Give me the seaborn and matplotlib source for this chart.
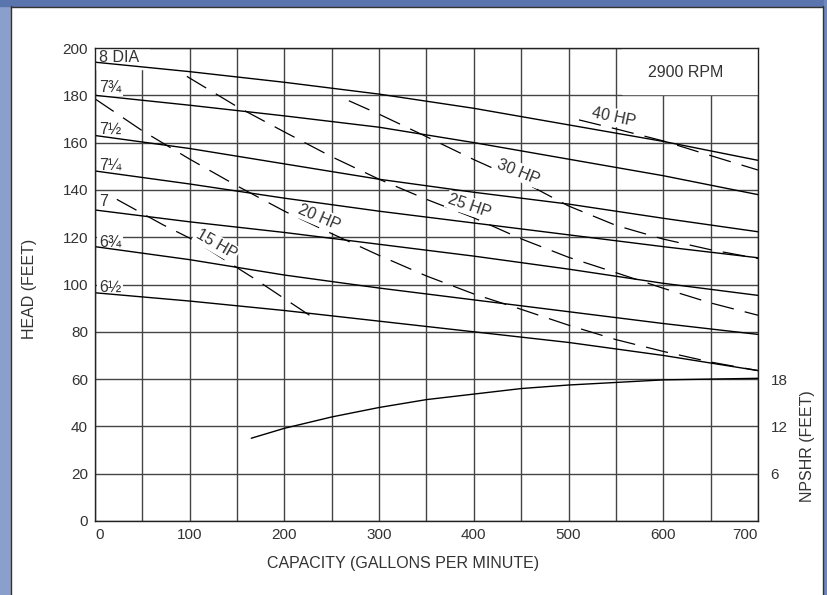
import numpy as np
import pandas as pd
import matplotlib
matplotlib.use("Agg")
import matplotlib.pyplot as plt
import seaborn as sns
from matplotlib.patches import Rectangle

# impeller diameter curves (head in feet vs capacity in gpm)
capacity = [0, 100, 200, 300, 400, 500, 600, 700]
head_8 = [194, 190, 185.5, 180.5, 174.5, 167.5, 160.5, 152.5]
head_7_75 = [180, 175.8, 171.3, 166.5, 160, 153, 146, 138]
head_7_5 = [163, 157.5, 151, 144.5, 139, 134, 128, 122.3]
head_7_25 = [148, 142.5, 136.5, 131, 126, 121, 116, 111.3]
head_7 = [131.5, 126.5, 122, 117, 112, 106.5, 100.5, 95.4]
head_6_75 = [116, 110.5, 104, 98.5, 93.5, 88.5, 83.5, 78.9]
head_6_5 = [96.5, 93, 89, 84.5, 80, 75.5, 70, 63.6]
dia_labels = ["8 DIA", "7\u00be", "7\u00bd", "7\u00bc", "7", "6\u00be", "6\u00bd"]
dia_label_head = [196, 183.6, 165.6, 150.5, 135, 118.1, 99]

# horsepower lines (dashed)
hp15_q = [23, 72, 104, 137, 169, 199, 231]
hp15_h = [136, 125.2, 118.8, 110.4, 102.3, 94.3, 85.8]
hp20_q = [0, 50, 100, 150, 200, 250, 300, 350, 400, 450, 500, 550, 600, 650, 700]
hp20_h = [178.5, 165, 153, 141.7, 131, 121.5, 112.3, 103.6, 96, 89.5, 82.8, 76.7, 71.7, 67.2, 63.6]
hp25_q = [97, 150, 200, 250, 300, 350, 400, 450, 500, 550, 600, 650, 700]
hp25_h = [188, 175.2, 164.5, 154, 144.5, 136, 128.2, 119.3, 111.5, 105, 98.4, 92.2, 87]
hp30_q = [268, 300, 350, 400, 450, 500, 550, 600, 650, 700]
hp30_h = [177.7, 172, 162.5, 152.8, 143.8, 133.2, 125, 119.2, 114.7, 111]
hp40_q = [511, 550, 600, 650, 700]
hp40_h = [169.6, 165.8, 160.7, 154.5, 148.4]
hp_labels = ["15 HP", "20 HP", "25 HP", "30 HP", "40 HP"]
hp_label_q = [128, 237, 395, 447, 548]
hp_label_h = [117, 128.4, 133.2, 147.7, 170.7]
hp_label_rot = [-30, -23, -19, -22, -12]

# NPSHR curve (feet, right axis)
npshr_q = [165, 200, 250, 300, 350, 400, 450, 500, 600, 700]
npshr_ft = [10.5, 11.76, 13.2, 14.4, 15.4, 16.1, 16.8, 17.25, 17.9, 18.1]

sns.set_theme(style="white")
plt.rcParams['font.family'] = ['Liberation Sans', 'DejaVu Sans']

FS = 11.5
TXT = '#333333'

fig = plt.figure(figsize=(8.28, 5.95), dpi=100)
W, H = 828, 595
# blue frame
fig.patches.append(Rectangle((0, 0), 10 / W, 1, transform=fig.transFigure, color='#8a9fcb', zorder=0))
fig.patches.append(Rectangle((0, 1 - 6 / H), 1, 6 / H, transform=fig.transFigure, color='#5a74ae', zorder=0))
fig.patches.append(Rectangle((824 / W, 0), 4 / W, 1, transform=fig.transFigure, color='#6f87bd', zorder=0))
fig.add_artist(plt.Line2D([10.5 / W, 10.5 / W], [0, 1 - 6 / H], transform=fig.transFigure, color='#333333', lw=1))
fig.add_artist(plt.Line2D([10.5 / W, 823.5 / W], [1 - 6.5 / H, 1 - 6.5 / H], transform=fig.transFigure, color='#333333', lw=1))
fig.add_artist(plt.Line2D([823.5 / W, 823.5 / W], [0, 1 - 6 / H], transform=fig.transFigure, color='#333333', lw=1))

ax = fig.add_axes([95 / W, 1 - 521 / H, 663 / W, 473 / H])
ax.set_xlim(0, 700)
ax.set_ylim(0, 200)
ax.set_axisbelow(True)
ax.set_xticks(range(0, 701, 100))
ax.set_xticks(range(0, 701, 50), minor=True)
ax.set_yticks(range(0, 201, 20))
ax.grid(True, which='both', color='#444444', lw=1.0)
for s in ax.spines.values():
    s.set_color('#222222')
    s.set_linewidth(1.0)
ax.tick_params(length=0, pad=5, labelsize=11, labelcolor=TXT)
ax.set_xticklabels([str(v) for v in range(0, 701, 100)])
xl = ax.get_xticklabels()
xl[0].set_ha('left')
xl[-1].set_ha('right')

# white boxes hiding grid where labels sit
ax.add_patch(Rectangle((0.5, 191.2), 56, 8.5, color='white', zorder=1))
ax.add_patch(Rectangle((556, 180.6), 143.5, 19.1, color='white', zorder=1))

curves = [head_8, head_7_75, head_7_5, head_7_25, head_7, head_6_75, head_6_5]
for h in curves:
    sns.lineplot(x=capacity, y=h, ax=ax, color='black', lw=1.0, zorder=2)

for q, h in [(hp15_q, hp15_h), (hp20_q, hp20_h), (hp25_q, hp25_h), (hp30_q, hp30_h), (hp40_q, hp40_h)]:
    sns.lineplot(x=q, y=h, ax=ax, color='black', lw=0.9, zorder=1.2, linestyle=(0, (18, 9)))

box = dict(boxstyle='square,pad=0.1', fc='white', ec='none')
for lab, yh in zip(dia_labels, dia_label_head):
    ax.text(4, yh, lab, ha='left', va='center', fontsize=FS, color=TXT, bbox=box, zorder=1.5)
for lab, q, h, r in zip(hp_labels, hp_label_q, hp_label_h, hp_label_rot):
    ax.text(q, h, lab, ha='center', va='center', rotation=r, rotation_mode='anchor',
            fontsize=FS, color=TXT, bbox=box, zorder=1.5)
ax.text(624, 189.7, "2900 RPM", ha='center', va='center', fontsize=FS, color=TXT, zorder=3)

ax.set_xlabel("CAPACITY (GALLONS PER MINUTE)", fontsize=FS, color=TXT)
ax.xaxis.set_label_coords(0.4646, -0.074)
ax.set_ylabel("HEAD (FEET)", fontsize=FS, color=TXT)
ax.yaxis.set_label_coords(-0.087, 0.49)

ax2 = ax.twinx()
ax2.set_ylim(0, 60)
ax2.set_yticks([6, 12, 18])
ax2.grid(False)
for s in ax2.spines.values():
    s.set_visible(False)
ax2.tick_params(length=0, pad=9, labelsize=11, labelcolor=TXT)
sns.lineplot(x=npshr_q, y=npshr_ft, ax=ax2, color='black', lw=1.0)
ax2.set_ylabel("NPSHR (FEET)", fontsize=FS, color=TXT)
ax2.yaxis.set_label_coords(1.063, 0.159)
ax2.set_xlim(0, 700)

fig.savefig("out.png", dpi=100)
